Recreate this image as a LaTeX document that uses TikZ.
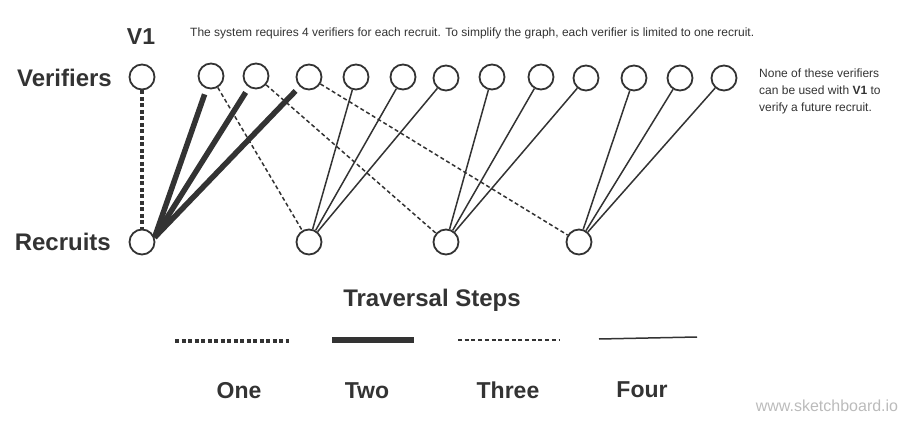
\documentclass[tikz,border=0pt]{standalone}
\usepackage{fontspec}
\setmainfont{Liberation Sans}
\definecolor{ink}{HTML}{333333}
\definecolor{mark}{HTML}{BBBBBB}

\begin{document}
\begin{tikzpicture}[x=1pt, y=-1pt,
    vertex/.style={circle, draw=ink, line width=1.8pt, minimum size=25pt, inner sep=0pt},
    biglabel/.style={text=ink, font=\fontsize{24}{28}\selectfont\bfseries, inner sep=0pt},
    steplabel/.style={text=ink, font=\fontsize{23}{27}\selectfont\bfseries, inner sep=0pt, anchor=base},
    smalltext/.style={text=ink, font=\fontsize{12}{17}\selectfont, inner sep=0pt},
    stepone/.style={draw=ink, line width=4.5pt, dash pattern=on 4pt off 2.5pt},
    steptwo/.style={draw=ink, line width=5.5pt},
    stepthree/.style={draw=ink, line width=1.5pt, dash pattern=on 4pt off 2.7pt},
    stepfour/.style={draw=ink, line width=1.5pt}]
    \useasboundingbox (0,0) rectangle (914,426);

    % verifiers
    \node[vertex] (V1) at (142,77) {};
    \node[vertex] (V2) at (211,76) {};
    \node[vertex] (V3) at (256,76) {};
    \node[vertex] (V4) at (309,77) {};
    \node[vertex] (V5) at (356,77) {};
    \node[vertex] (V6) at (403,77) {};
    \node[vertex] (V7) at (446,78) {};
    \node[vertex] (V8) at (492,77) {};
    \node[vertex] (V9) at (541,77) {};
    \node[vertex] (V10) at (586,78) {};
    \node[vertex] (V11) at (634,78) {};
    \node[vertex] (V12) at (680,78) {};
    \node[vertex] (V13) at (724,78) {};

    % recruits
    \node[vertex] (R1) at (142,242) {};
    \node[vertex] (R2) at (309,242) {};
    \node[vertex] (R3) at (446,242) {};
    \node[vertex] (R4) at (579,242) {};

    \node[biglabel, anchor=east] (Verifiers) at (112,78) {Verifiers};
    \node[biglabel, anchor=east] (Recruits) at (111,242) {Recruits};
    \node[biglabel, font=\fontsize{23}{27}\selectfont\bfseries] (V1_label) at (141,37) {V1};
    \node[smalltext, anchor=west] (Note_top) at (190,33)
        {The system requires 4 verifiers for each recruit. To simplify the graph, each verifier is limited to one recruit.};
    \node[smalltext, anchor=north west, align=left] (Note_right) at (759,69)
        {None of these verifiers\\can be used with \textbf{V1} to\\verify a future recruit.};

    % traversal edges
    \path[stepone] (V1) edge (R1);

    \path[steptwo, shorten <=6pt] (V2) edge (R1.20);
    \path[steptwo, shorten <=6pt] (V3) edge (R1.20);
    \path[steptwo, shorten <=6pt] (V4) edge (R1.20);

    \path[stepthree] (V2) edge (R2);
    \path[stepthree] (V3) edge (R3);
    \path[stepthree] (V4) edge (R4);

    \path[stepfour] (V5) edge (R2);
    \path[stepfour] (V6) edge (R2);
    \path[stepfour] (V7) edge (R2);
    \path[stepfour] (V8) edge (R3);
    \path[stepfour] (V9) edge (R3);
    \path[stepfour] (V10) edge (R3);
    \path[stepfour] (V11) edge (R4);
    \path[stepfour] (V12) edge (R4);
    \path[stepfour] (V13) edge (R4);

    % legend
    \node[biglabel] (Legend) at (432,300) {Traversal Steps};

    \coordinate (One_a) at (175,341);
    \coordinate (One_b) at (289,341);
    \coordinate (Two_a) at (332,340);
    \coordinate (Two_b) at (414,340);
    \coordinate (Three_a) at (458,340);
    \coordinate (Three_b) at (560,340);
    \coordinate (Four_a) at (599,339);
    \coordinate (Four_b) at (697,337);

    \path[stepone] (One_a) edge (One_b);
    \path[steptwo] (Two_a) edge (Two_b);
    \path[stepthree] (Three_a) edge (Three_b);
    \path[stepfour] (Four_a) edge (Four_b);

    \node[steplabel] (One) at (239,398) {One};
    \node[steplabel] (Two) at (367,398) {Two};
    \node[steplabel] (Three) at (508,398) {Three};
    \node[steplabel] (Four) at (642,397) {Four};

    \node[text=mark, font=\fontsize{16}{19}\selectfont, inner sep=0pt] (Site) at (827,406) {www.sketchboard.io};

\end{tikzpicture}
\end{document}
